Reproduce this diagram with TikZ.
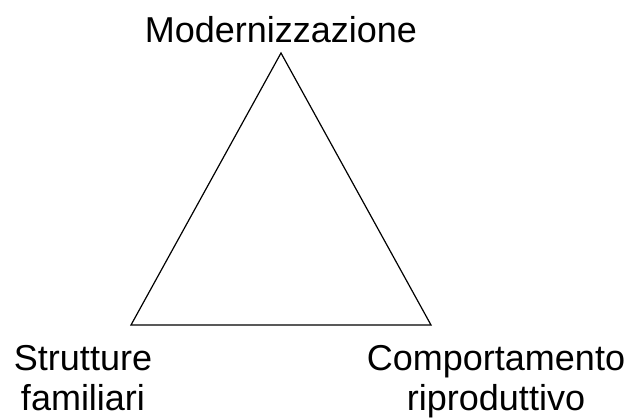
\documentclass[tikz,border=0pt]{standalone}
\usepackage{fontspec}
\setmainfont{Liberation Sans}
\usepackage{tikz}

\begin{document}
\begin{tikzpicture}[x=1pt,y=-1pt,
    vertexlabel/.style={font=\fontsize{36}{40}\selectfont,align=center,
        inner sep=0pt,anchor=base}]
    \useasboundingbox (0,0) rectangle (627,420);

    % Triangle corners
    \coordinate (Top) at (281,53);
    \coordinate (Left) at (131,325);
    \coordinate (Right) at (431,325);

    % Triangle
    \draw [line width=1.2] (Top) -- (Left) -- (Right) -- cycle;

    % Corner labels
    \node (modern) at (281,43) [vertexlabel] {Modernizzazione};
    \node (strutt) at (83,410) [vertexlabel] {Strutture\\familiari};
    \node (comport) at (496,410) [vertexlabel] {Comportamento\\riproduttivo};
\end{tikzpicture}
\end{document}
